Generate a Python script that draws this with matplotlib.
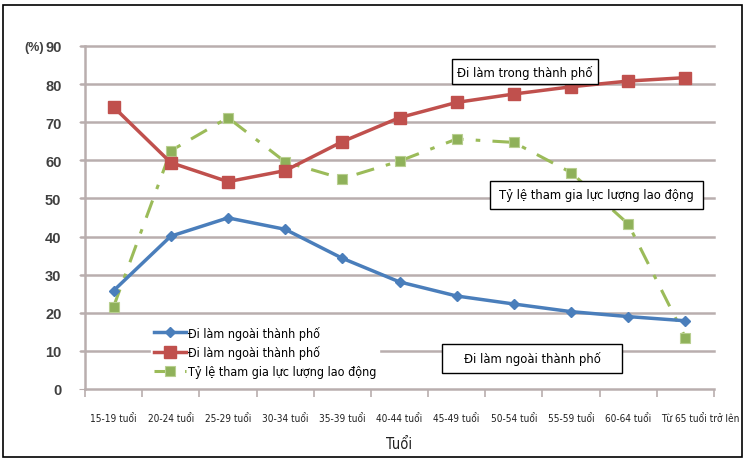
import matplotlib
matplotlib.use("Agg")
import matplotlib.pyplot as plt
import matplotlib.transforms as mtransforms
from matplotlib.patches import Rectangle
from matplotlib.font_manager import FontProperties

categories = ["15-19 tuổi", "20-24 tuổi", "25-29 tuổi", "30-34 tuổi", "35-39 tuổi",
              "40-44 tuổi", "45-49 tuổi", "50-54 tuổi", "55-59 tuổi", "60-64 tuổi",
              "Từ 65 tuổi trở lên"]
outside_city = [25.8, 40.1, 44.9, 41.9, 34.3, 28.1, 24.4, 22.3, 20.3, 19.0, 17.9]
inside_city = [74.0, 59.4, 54.4, 57.3, 64.9, 71.2, 75.2, 77.4, 79.3, 80.8, 81.7]
participation = [21.6, 62.5, 71.2, 59.6, 55.2, 59.8, 65.6, 64.7, 56.8, 43.3, 13.5]
legend_labels = ["Đi làm ngoài thành phố", "Đi làm ngoài thành phố",
                 "Tỷ lệ tham gia lực lượng lao động"]
yticks = [0, 10, 20, 30, 40, 50, 60, 70, 80, 90]


def narrow(size):
    return FontProperties(family=["DejaVu Sans"], stretch="condensed", size=size)


fig = plt.figure(figsize=(7.47, 4.64), dpi=100)
W, H = 747, 464
ax = fig.add_axes([85 / W, (H - 390) / H, (714 - 85) / W, (390 - 47) / H])

grid_c = "#b9aeae"
for y in yticks[1:]:
    ax.axhline(y, color=grid_c, lw=1.8, zorder=0, xmin=-0.006, clip_on=False)

x = list(range(len(categories)))
ax.plot(x, participation, color="#9bbb59", lw=2.2, ls=(0, (6, 4, 1.5, 4)),
        marker="s", ms=7.5, mfc="#8fb15a", mec="#b8cf90", mew=0.8, zorder=3,
        label=legend_labels[2])
ax.plot(x, inside_city, color="#c0504d", lw=2.5, marker="s", ms=8,
        mfc="#c0504d", mec="#c0504d", zorder=4, label=legend_labels[1])
ax.plot(x, outside_city, color="#4a7ebb", lw=2.5, marker="D", ms=5,
        mfc="#4a7ebb", mec="#4a7ebb", zorder=5, label=legend_labels[0])

ax.set_xlim(-0.5, len(categories) - 0.5)
ax.set_ylim(0, 90)
ax.set_yticks(yticks)
ax.set_yticklabels([str(v) for v in yticks], fontsize=10.5, fontweight="bold",
                   color="#404040", family="Liberation Sans")
ax.tick_params(axis="y", length=4, color=grid_c, pad=13)
ax.set_xticks(x)
ax.set_xticklabels(categories, fontproperties=narrow(7.2), color="#202020")
ax.set_xticks([i - 0.5 for i in range(len(categories) + 1)], minor=True)
ax.tick_params(axis="x", which="major", length=0, pad=17)
ax.tick_params(axis="x", which="minor", length=6, color=grid_c, width=1.2)
last = ax.get_xticklabels()[-1]
last.set_transform(last.get_transform() +
                   mtransforms.ScaledTranslation(15 / 100, 0, fig.dpi_scale_trans))
for s in ["top", "right"]:
    ax.spines[s].set_visible(False)
ax.spines["left"].set_color(grid_c)
ax.spines["bottom"].set_color(grid_c)
ax.spines["left"].set_linewidth(1.8)
ax.spines["bottom"].set_linewidth(1.8)

ax.set_xlabel("Tuổi", fontproperties=narrow(10.5), color="#202020", labelpad=10)

handles, labels = ax.get_legend_handles_labels()
order = [2, 1, 0]
leg = ax.legend([handles[i] for i in order], [labels[i] for i in order],
                loc="upper left", bbox_to_anchor=(0.095, 0.21), frameon=True,
                framealpha=1, edgecolor="white", facecolor="white",
                prop=narrow(9), handlelength=2.6,
                handletextpad=0.15, borderpad=0.2, labelspacing=0.45)
leg.set_zorder(6)


def boxed(x0, y0, x1, y1, text):
    fig.patches.append(Rectangle((x0 / W, 1 - y1 / H), (x1 - x0) / W, (y1 - y0) / H,
                                 transform=fig.transFigure, fc="white", ec="black",
                                 lw=1, zorder=10))
    fig.text((x0 + x1) / 2 / W, 1 - (y0 + y1) / 2 / H, text, ha="center",
             va="center", fontproperties=narrow(9.3), zorder=11)


boxed(452, 60, 598, 85, "Đi làm trong thành phố")
boxed(490, 182, 703, 210, "Tỷ lệ tham gia lực lượng lao động")
boxed(442, 345, 622, 374, "Đi làm ngoài thành phố")

fig.text(34 / W, 1 - 48 / H, "(%)", ha="center", va="center", fontsize=9,
         fontweight="bold", color="#404040", family="Liberation Sans")

fig.patches.append(Rectangle((3 / W, 6 / H), 739 / W, 452 / H, transform=fig.transFigure,
                             fill=False, ec="black", lw=1.2))

fig.savefig("out.png", dpi=100)
